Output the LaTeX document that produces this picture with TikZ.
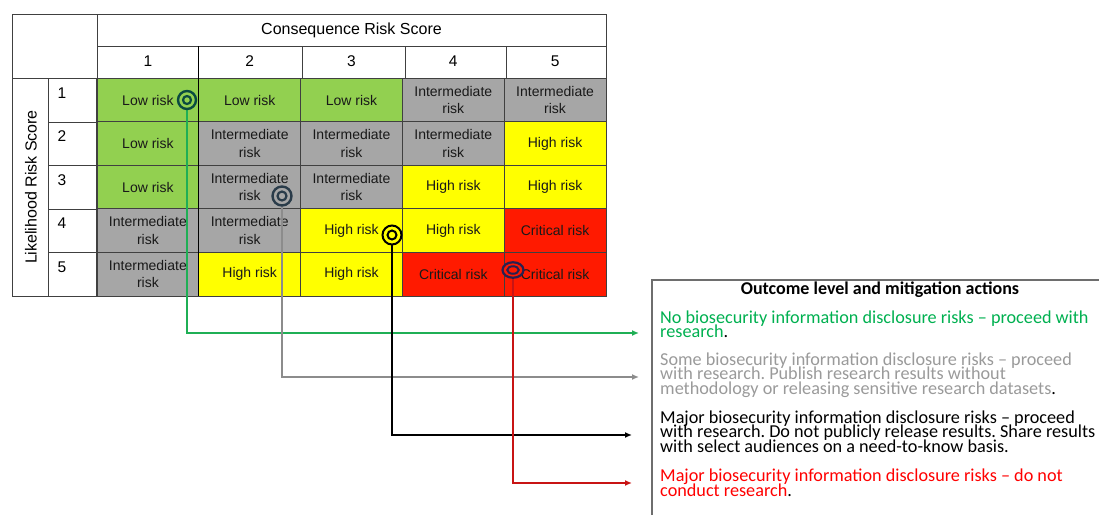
\documentclass[tikz,border=0pt]{standalone}
\usepackage{fontspec}
\setmainfont{Carlito}
\newfontfamily\tabfont{Liberation Sans}
\usetikzlibrary{arrows.meta,shapes.geometric}
\frenchspacing
\definecolor{lowg}{HTML}{92D050}
\definecolor{midg}{HTML}{A6A6A6}
\definecolor{highy}{HTML}{FFFF00}
\definecolor{critr}{HTML}{FF1A00}
\definecolor{gridc}{HTML}{404040}
\definecolor{lgreen}{HTML}{1FAF55}
\definecolor{lgray}{HTML}{8C8C8C}
\definecolor{lred}{HTML}{C81414}
\definecolor{tgreen}{HTML}{00B050}
\definecolor{tgray}{HTML}{9A9A9A}
\definecolor{tred}{HTML}{FF0000}
\definecolor{ringg}{HTML}{0A4A40}
\definecolor{rings}{HTML}{2A3C4A}
\definecolor{ringr}{HTML}{2A2050}
\definecolor{boxc}{HTML}{6E6E6E}
\newcommand{\IRisk}{Intermediate\\risk}
\tikzset{
  cell/.style={draw=gridc, line width=0.8pt, minimum width=102.4pt, minimum height=43.6pt,
    inner sep=0pt, align=center, font=\tabfont\fontsize{14}{17.5}\selectfont, text=black!90},
  low/.style={cell, fill=lowg},
  mid/.style={cell, fill=midg},
  high/.style={cell, fill=highy},
  crit/.style={cell, fill=critr},
  gridline/.style={draw=gridc, line width=0.8pt},
  numlbl/.style={font=\tabfont\fontsize{15.5}{18}\selectfont, inner sep=0pt},
  hdrlbl/.style={font=\tabfont\fontsize{16}{19}\selectfont, inner sep=0pt},
  conn/.style={line width=1.4pt, -{Latex[length=7pt,width=6pt]}},
  ringout/.style={circle, line width=2.4pt, minimum size=18pt, inner sep=0pt},
  ringin/.style={circle, line width=2.2pt, minimum size=8pt, inner sep=0pt},
  txtline/.style={anchor=base west, inner sep=0pt, font=\fontsize{18.2}{15}\selectfont},
}
\begin{document}
\begin{tikzpicture}[x=1pt,y=-1pt]
\useasboundingbox (0,0) rectangle (1099,515);
% cells
\foreach \r/\c/\s/\t in {
  1/1/low/{Low risk}, 1/2/low/{Low risk}, 1/3/low/{Low risk}, 1/4/mid/{\IRisk}, 1/5/mid/{\IRisk},
  2/1/low/{Low risk}, 2/2/mid/{\IRisk}, 2/3/mid/{\IRisk}, 2/4/mid/{\IRisk}, 2/5/high/{High risk},
  3/1/low/{Low risk}, 3/2/mid/{\IRisk}, 3/3/mid/{\IRisk}, 3/4/high/{High risk}, 3/5/high/{High risk},
  4/1/mid/{\IRisk}, 4/2/mid/{\IRisk}, 4/3/high/{High risk}, 4/4/high/{High risk}, 4/5/crit/{Critical risk},
  5/1/mid/{\IRisk}, 5/2/high/{High risk}, 5/3/high/{High risk}, 5/4/crit/{Critical risk}, 5/5/crit/{Critical risk}}
{
  \node[\s] (r\r c\c) at ({97+(\c-0.5)*101.8},{78.4+(\r-0.5)*43.5}) {\t};
}
% frame and header grid
\draw[gridline] (12,14) rectangle (606,296);
\draw[gridline] (97,14) -- (97,296);
\draw[gridline] (97,46) -- (606,46);
\draw[gridline] (12,78.4) -- (606,78.4);
\draw[gridline] (48,78.4) -- (48,296);
\foreach \x in {302,405,506} { \draw[gridline] (\x,46) -- (\x,78.4); }
\foreach \k in {1,2,3,4} { \draw[gridline] (48,{78.4+\k*43.5}) -- (97,{78.4+\k*43.5}); }
\draw[black, line width=1.1pt] (198.8,46) -- (198.8,296);
% header labels
\node[hdrlbl] (hcons) at (351.5,30.5) {Consequence Risk Score};
\node[hdrlbl, rotate=90] (hlike) at (31,187) {Likelihood Risk Score};
\foreach \c in {1,...,5} { \node[numlbl] (cn\c) at ({97+(\c-0.5)*101.8},61) {\c}; }
\foreach \r in {1,...,5} { \node[numlbl] (rn\r) at (62,{78.4+(\r-1)*43.5+14.5}) {\r}; }
% connector targets
\coordinate (t1) at (639,333);
\coordinate (t2) at (639,377);
\coordinate (t3) at (632,435);
\coordinate (t4) at (632,483);
% marker positions
\coordinate (m1) at (187,100);
\coordinate (m2) at (282,196);
\coordinate (m3) at (392,235);
\coordinate (m4) at (513,270);
% connectors
\draw[conn, lgreen] (m1) |- (t1);
\draw[conn, lgray] (m2) |- (t2);
\draw[conn, black] (m3) |- (t3);
\draw[conn, lred] (m4) |- (t4);
% ring markers
\node[ringout, draw=ringg, fill=lowg] (c1) at (m1) {};
\node[ringin, draw=ringg, fill=lowg] (c1i) at (m1) {};
\node[ringout, draw=rings, fill=midg, minimum size=19pt] (c2) at (m2) {};
\node[ringin, draw=rings, fill=midg, minimum size=9pt] (c2i) at (m2) {};
\node[ringout, draw=black, fill=highy, minimum size=19pt, line width=2pt] (c3) at (m3) {};
\node[ringin, draw=black, fill=highy, minimum size=9pt, line width=2pt] (c3i) at (m3) {};
\node[ellipse, draw=ringr, fill=critr, line width=2.2pt, minimum width=21pt, minimum height=15.5pt, inner sep=0pt] (c4) at (m4) {};
\node[ellipse, draw=ringr, fill=critr, line width=2pt, minimum width=11.5pt, minimum height=7.5pt, inner sep=0pt] (c4i) at (m4) {};
% outcome box
\draw[boxc, line width=1.2pt] (652,515) -- (652,280) -- (1099,280);
\node[anchor=base, inner sep=0pt, font=\bfseries\fontsize{18}{15}\selectfont] (title) at (880,294) {Outcome level and mitigation actions};
\node[txtline, text=tgreen] (g1) at (660,323) {No biosecurity information disclosure risks – proceed with};
\node[txtline, text=tgreen] (g2) at (660,337.8) {research\textcolor{black}{.}};
\node[txtline, text=tgray] (s1) at (660,365) {Some biosecurity information disclosure risks – proceed};
\node[txtline, text=tgray] (s2) at (660,379.9) {with research. Publish research results without};
\node[txtline, text=tgray] (s3) at (660,394.8) {methodology or releasing sensitive research datasets\textcolor{black}{.}};
\node[txtline, text=black] (k1) at (660,423) {Major biosecurity information disclosure risks – proceed};
\node[txtline, text=black] (k2) at (660,437.9) {with research. Do not publicly release results. Share results};
\node[txtline, text=black] (k3) at (660,452.8) {with select audiences on a need-to-know basis.};
\node[txtline, text=tred] (d1) at (660,481.5) {Major biosecurity information disclosure risks – do not};
\node[txtline, text=tred] (d2) at (660,496.4) {conduct research\textcolor{black}{.}};
\end{tikzpicture}
\end{document}
